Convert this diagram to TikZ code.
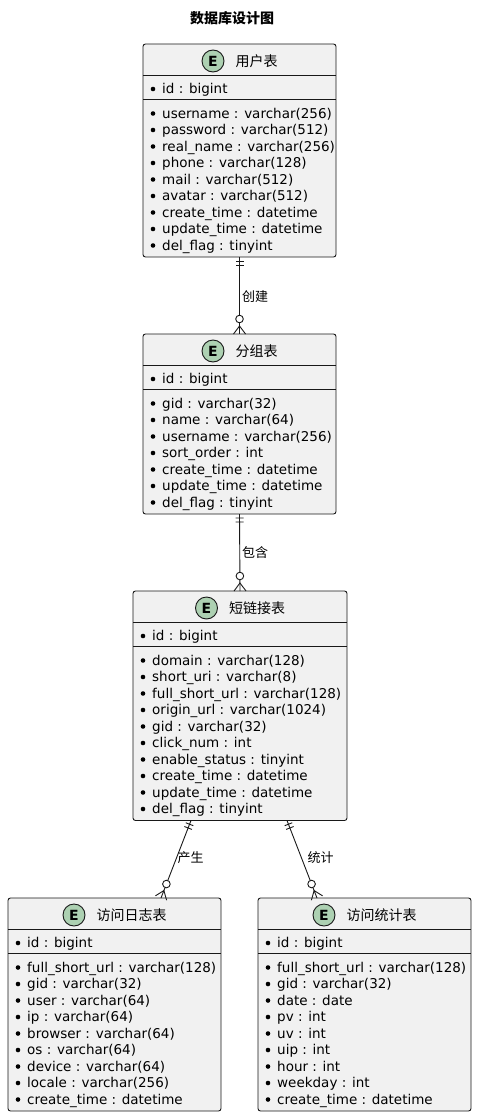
\documentclass[tikz,border=0pt]{standalone}
\usepackage{fontspec}
\setmainfont{DejaVu Sans}
\newfontfamily\cjk{Noto Sans CJK SC}
\usetikzlibrary{positioning,calc}
\definecolor{boxfill}{HTML}{F1F1F1}
\definecolor{boxline}{HTML}{181818}
\definecolor{badgefill}{HTML}{ADD1B2}

\begin{document}
\begin{tikzpicture}[x=1pt,y=-1pt,
  entity/.style={draw=boxline, fill=boxfill, line width=0.9pt, rounded corners=2.5pt, inner sep=0pt, outer sep=0pt},
  badge/.style={circle, draw=boxline, fill=badgefill, line width=0.9pt, minimum size=22pt, inner sep=0pt, font=\fontsize{14}{14}\selectfont\bfseries},
  etitle/.style={inner sep=0pt, font=\cjk\fontsize{14}{16}\selectfont},
  field/.style={inner sep=0pt, anchor=west, text height=11pt, text depth=2pt, font=\fontsize{13.5}{16}\selectfont},
  sepline/.style={draw=boxline, line width=0.9pt},
  rel/.style={draw=boxline, line width=0.9pt},
  rellabel/.style={inner sep=0pt, anchor=west, font=\cjk\fontsize{13}{15}\selectfont},
]
\useasboundingbox (0,0) rectangle (477,1116);

\node[font=\cjk\bfseries\fontsize{14}{16}\selectfont] (title) at (232,18) {数据库设计图};

% 用户表
\node[entity, minimum width=193pt, minimum height=213pt] (user) at (239.5,150.5) {};
\draw[sepline] (143,75.5) -- (336,75.5);
\draw[sepline] (143,99.5) -- (336,99.5);
\node[badge] (userE) at (213,61) {E};
\node[etitle, right=11pt of userE] (userT) {用户表};
\fill (153,89) circle[radius=2.3pt];
\node[field] (user-id) at (162,89) {id : bigint};
\foreach \f [count=\i] in {username : varchar(256), password : varchar(512), real\_name : varchar(256), phone : varchar(128), mail : varchar(512), avatar : varchar(512), create\_time : datetime, update\_time : datetime, del\_flag : tinyint}{
  \fill (153,{113.5+(\i-1)*16.5}) circle[radius=2.3pt];
  \node[field] (user-f\i) at (162,{113.5+(\i-1)*16.5}) {\f};
}

% 分组表
\node[entity, minimum width=193pt, minimum height=180pt] (group) at (239.5,424) {};
\draw[sepline] (143,365.5) -- (336,365.5);
\draw[sepline] (143,389.5) -- (336,389.5);
\node[badge] (groupE) at (213,351) {E};
\node[etitle, right=11pt of groupE] (groupT) {分组表};
\fill (153,379) circle[radius=2.3pt];
\node[field] (group-id) at (162,379) {id : bigint};
\foreach \f [count=\i] in {gid : varchar(32), name : varchar(64), username : varchar(256), sort\_order : int, create\_time : datetime, update\_time : datetime, del\_flag : tinyint}{
  \fill (153,{403.5+(\i-1)*16.5}) circle[radius=2.3pt];
  \node[field] (group-f\i) at (162,{403.5+(\i-1)*16.5}) {\f};
}

% 短链接表
\node[entity, minimum width=214pt, minimum height=229.5pt] (link) at (240,705.75) {};
\draw[sepline] (133,622.5) -- (347,622.5);
\draw[sepline] (133,646.5) -- (347,646.5);
\node[badge] (linkE) at (206.5,608) {E};
\node[etitle, right=11pt of linkE] (linkT) {短链接表};
\fill (143,636) circle[radius=2.3pt];
\node[field] (link-id) at (152,636) {id : bigint};
\foreach \f [count=\i] in {domain : varchar(128), short\_uri : varchar(8), full\_short\_url : varchar(128), origin\_url : varchar(1024), gid : varchar(32), click\_num : int, enable\_status : tinyint, create\_time : datetime, update\_time : datetime, del\_flag : tinyint}{
  \fill (143,{660.5+(\i-1)*16.5}) circle[radius=2.3pt];
  \node[field] (link-f\i) at (152,{660.5+(\i-1)*16.5}) {\f};
}

% 访问日志表
\node[entity, minimum width=213pt, minimum height=213pt] (log) at (114.5,1004.5) {};
\draw[sepline] (8,929.5) -- (221,929.5);
\draw[sepline] (8,953.5) -- (221,953.5);
\node[badge] (logE) at (74,915) {E};
\node[etitle, right=11pt of logE] (logT) {访问日志表};
\fill (18,943) circle[radius=2.3pt];
\node[field] (log-id) at (27,943) {id : bigint};
\foreach \f [count=\i] in {full\_short\_url : varchar(128), gid : varchar(32), user : varchar(64), ip : varchar(64), browser : varchar(64), os : varchar(64), device : varchar(64), locale : varchar(256), create\_time : datetime}{
  \fill (18,{967.5+(\i-1)*16.5}) circle[radius=2.3pt];
  \node[field] (log-f\i) at (27,{967.5+(\i-1)*16.5}) {\f};
}

% 访问统计表
\node[entity, minimum width=213pt, minimum height=213pt] (stats) at (364.5,1004.5) {};
\draw[sepline] (258,929.5) -- (471,929.5);
\draw[sepline] (258,953.5) -- (471,953.5);
\node[badge] (statsE) at (324,915) {E};
\node[etitle, right=11pt of statsE] (statsT) {访问统计表};
\fill (268,943) circle[radius=2.3pt];
\node[field] (stats-id) at (277,943) {id : bigint};
\foreach \f [count=\i] in {full\_short\_url : varchar(128), gid : varchar(32), date : date, pv : int, uv : int, uip : int, hour : int, weekday : int, create\_time : datetime}{
  \fill (268,{967.5+(\i-1)*16.5}) circle[radius=2.3pt];
  \node[field] (stats-f\i) at (277,{967.5+(\i-1)*16.5}) {\f};
}

% relations: || at the first end, o{ at the second
\coordinate (k2) at ($(link.south)+(-49,0)$);
\coordinate (k3) at ($(link.south)+(47,0)$);
\coordinate (l1) at ($(log.north)+(46.5,0)$);
\coordinate (s1) at ($(stats.north)+(-47.5,0)$);
\foreach \a/\b in {user.south/group.north, group.south/link.north, k2/l1, k3/s1}{
  \coordinate (tA) at ($(\a)!4pt!(\b)$);
  \coordinate (tB) at ($(\a)!8pt!(\b)$);
  \coordinate (fB) at ($(\b)!8pt!(\a)$);
  \draw[rel] (\a) -- ($(\b)!18.8pt!(\a)$);
  \draw[rel] ($(\b)!15pt!(\a)$) circle[radius=3.8pt];
  \draw[rel] ($(\b)!11.2pt!(\a)$) -- (\b);
  \draw[rel] ($(\b)!6pt!90:(\a)$) -- (fB) -- ($(\b)!6pt!-90:(\a)$);
  \draw[rel] ($(tA)!4pt!90:(\b)$) -- ($(tA)!4pt!-90:(\b)$);
  \draw[rel] ($(tB)!4pt!90:(\b)$) -- ($(tB)!4pt!-90:(\b)$);
}

\node[rellabel] (lbl1) at (242,297) {创建};
\node[rellabel] (lbl2) at (242,553) {包含};
\node[rellabel] (lbl3) at (177.5,858) {产生};
\node[rellabel] (lbl4) at (307.5,858) {统计};

\end{tikzpicture}
\end{document}
